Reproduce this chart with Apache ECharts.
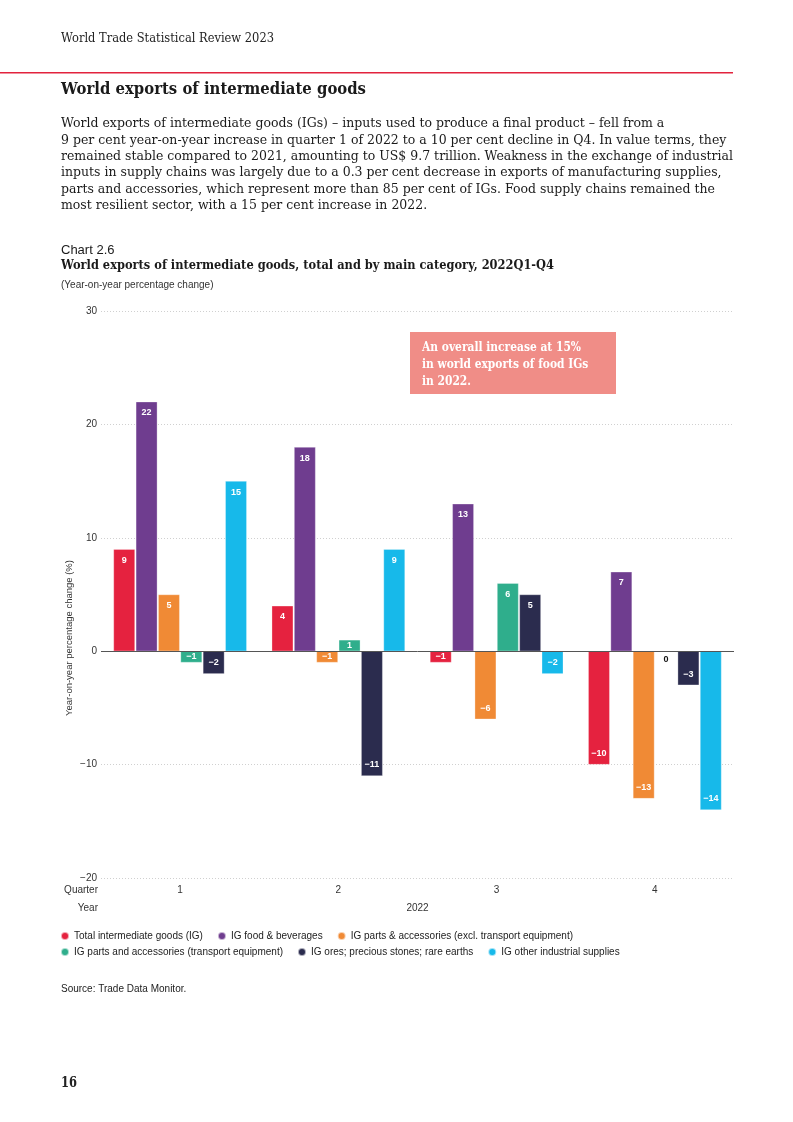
<!DOCTYPE html>
<html><head><meta charset="utf-8">
<script src="https://cdn.jsdelivr.net/npm/echarts@6/dist/echarts.min.js"></script>
<style>html,body{margin:0;padding:0;background:#fff}#c{width:793px;height:1122px}</style>
</head><body><div id="c"></div>
<script>
// ---- data ----
const quarters = ['1', '2', '3', '4'];
const years = ['2022'];
const seriesNames = [
  'Total intermediate goods (IG)',
  'IG food & beverages',
  'IG parts & accessories (excl. transport equipment)',
  'IG parts and accessories (transport equipment)',
  'IG ores; precious stones; rare earths',
  'IG other industrial supplies'
];
const totalIG = [9, 4, -1, -10];
const foodBeverages = [22, 18, 13, 7];
const partsExclTransport = [5, -1, -6, -13];
const partsTransport = [-1, 1, 6, 0];
const oresStones = [-2, -11, 5, -3];
const otherSupplies = [15, 9, -2, -14];
const yMin = -20, yMax = 30, yStep = 10;

const seriesValues = [totalIG, foodBeverages, partsExclTransport, partsTransport, oresStones, otherSupplies];
const colors = ['#E5223F', '#6F3D8F', '#F08A35', '#2FAE8C', '#2B2C4E', '#17B9EA'];

const SERIF = "'DejaVu Serif', 'Liberation Serif', serif";
const SANS = "'Liberation Sans', Arial, sans-serif";
const minus = v => String(v).replace('-', '\u2212');

// text measuring to fit the reference typeface widths
const mctx = document.createElement('canvas').getContext('2d');
function measure(text, font) { mctx.font = font; return mctx.measureText(text).width; }
function fitText(text, x, y, font, targetWidth, fill, scaleOverride) {
  const s = scaleOverride || (targetWidth / measure(text, font));
  return { type: 'text', x: x, y: y, scaleX: s, originX: 0, originY: 0,
    style: { text: text, font: font, fill: fill, verticalAlign: 'middle', align: 'left' } };
}

function buildData(arr) {
  return arr.map(v => {
    if (v === 0) return { value: v, label: { position: 'bottom', color: '#111', distance: 4 } };
    if (Math.abs(v) <= 1) return { value: v, label: { position: 'inside' } };
    return { value: v, label: { position: v < 0 ? 'insideBottom' : 'insideTop' } };
  });
}

const series = seriesValues.map((vals, i) => ({
  name: seriesNames[i],
  type: 'bar',
  xAxisIndex: 0,
  barWidth: 21.5,
  barGap: '4%',
  data: buildData(vals),
  itemStyle: { color: colors[i], borderColor: 'rgba(255,255,255,0.6)', borderWidth: 0.5 },
  label: {
    show: true, color: '#fff', fontFamily: SANS, fontWeight: 'bold', fontSize: 9, distance: 6.5,
    formatter: p => minus(p.value)
  },
  emphasis: { disabled: true }
}));

const paragraph = [
  'World exports of intermediate goods (IGs) \u2013 inputs used to produce a final product \u2013 fell from a',
  '9 per cent year-on-year increase in quarter 1 of 2022 to a 10 per cent decline in Q4. In value terms, they',
  'remained stable compared to 2021, amounting to US$ 9.7 trillion. Weakness in the exchange of industrial',
  'inputs in supply chains was largely due to a 0.3 per cent decrease in exports of manufacturing supplies,',
  'parts and accessories, which represent more than 85 per cent of IGs. Food supply chains remained the',
  'most resilient sector, with a 15 per cent increase in 2022.'
];
const paraFont = "13px " + SERIF;
const paraScale = 672 / measure(paragraph[2], paraFont);
const paraY = [124, 140.3, 156.6, 172.9, 189.2, 205.5];

const annLines = ['An overall increase at 15%', 'in world exports of food IGs', 'in 2022.'];
const annFont = "bold 12px " + SERIF;
const annScale = 159 / measure(annLines[0], annFont);

const graphics = [
  fitText('World Trade Statistical Review 2023', 61, 39, "12px " + SERIF, 213, '#222'),
  { type: 'rect', shape: { x: 0, y: 72, width: 733, height: 1.5 }, style: { fill: '#E2233D' } },
  fitText('World exports of intermediate goods', 61, 90, "bold 17px " + SERIF, 305, '#1a1a1a')
].concat(paragraph.map((t, i) => fitText(t, 61, paraY[i], paraFont, 0, '#1a1a1a', paraScale)))
.concat([
  { type: 'text', x: 61, y: 250, style: { text: 'Chart 2.6', font: "13px " + SANS, fill: '#1a1a1a', verticalAlign: 'middle' } },
  fitText('World exports of intermediate goods, total and by main category, 2022Q1-Q4', 61, 266, "bold 13px " + SERIF, 493, '#1a1a1a'),
  { type: 'text', x: 61, y: 285, style: { text: '(Year-on-year percentage change)', font: "10px " + SANS, fill: '#333', verticalAlign: 'middle' } },
  { type: 'text', x: 69, y: 638, rotation: Math.PI / 2, style: { text: 'Year-on-year percentage change (%)', font: "9.5px " + SANS, fill: '#333', align: 'center', verticalAlign: 'middle' } },
  { type: 'text', x: 98, y: 890, style: { text: 'Quarter', font: "10px " + SANS, fill: '#333', align: 'right', verticalAlign: 'middle' } },
  { type: 'text', x: 98, y: 908, style: { text: 'Year', font: "10px " + SANS, fill: '#333', align: 'right', verticalAlign: 'middle' } },
  { type: 'rect', shape: { x: 410, y: 332, width: 206, height: 62 }, style: { fill: '#F08D87' } }
])
.concat(annLines.map((t, i) => fitText(t, 422, 348 + i * 17, annFont, 0, '#fff', annScale)))
.concat([
  { type: 'text', x: 61, y: 989, style: { text: 'Source: Trade Data Monitor.', font: "10px " + SANS, fill: '#222', verticalAlign: 'middle' } },
  fitText('16', 61, 1083, "bold 15px " + SERIF, 16, '#222')
]);

const chart = echarts.init(document.getElementById('c'), null, { renderer: 'canvas' });
chart.setOption({
  animation: false,
  textStyle: { fontFamily: SANS },
  grid: { left: 101, top: 311, width: 633, height: 567, containLabel: false },
  legend: [
    { data: seriesNames.slice(0, 3), left: 55, top: 926, icon: 'circle', itemWidth: 8, itemHeight: 8, itemGap: 14,
      textStyle: { fontSize: 10, color: '#222', fontFamily: SANS } },
    { data: seriesNames.slice(3), left: 55, top: 942, icon: 'circle', itemWidth: 8, itemHeight: 8, itemGap: 14,
      textStyle: { fontSize: 10, color: '#222', fontFamily: SANS } }
  ],
  xAxis: [
    { type: 'category', data: quarters, position: 'bottom',
      axisLine: { show: false }, axisTick: { show: false },
      axisLabel: { color: '#333', fontSize: 10, margin: 7 } },
    { type: 'category', data: years, position: 'bottom', offset: 18,
      axisLine: { show: false }, axisTick: { show: false },
      axisLabel: { color: '#333', fontSize: 10, margin: 7 } }
  ],
  yAxis: {
    type: 'value', min: yMin, max: yMax, interval: yStep,
    axisLine: { show: false }, axisTick: { show: false },
    axisLabel: { color: '#333', fontSize: 10, margin: 4, formatter: v => minus(v) },
    splitLine: { lineStyle: { color: '#d0d0d0', type: [1, 2], width: 1 } }
  },
  series: series.concat([{
    type: 'line', data: [], silent: true,
    markLine: { symbol: 'none', silent: true, label: { show: false },
      lineStyle: { color: '#555', type: 'solid', width: 1 }, data: [{ yAxis: 0 }] }
  }]),
  graphic: graphics
});
</script></body></html>
